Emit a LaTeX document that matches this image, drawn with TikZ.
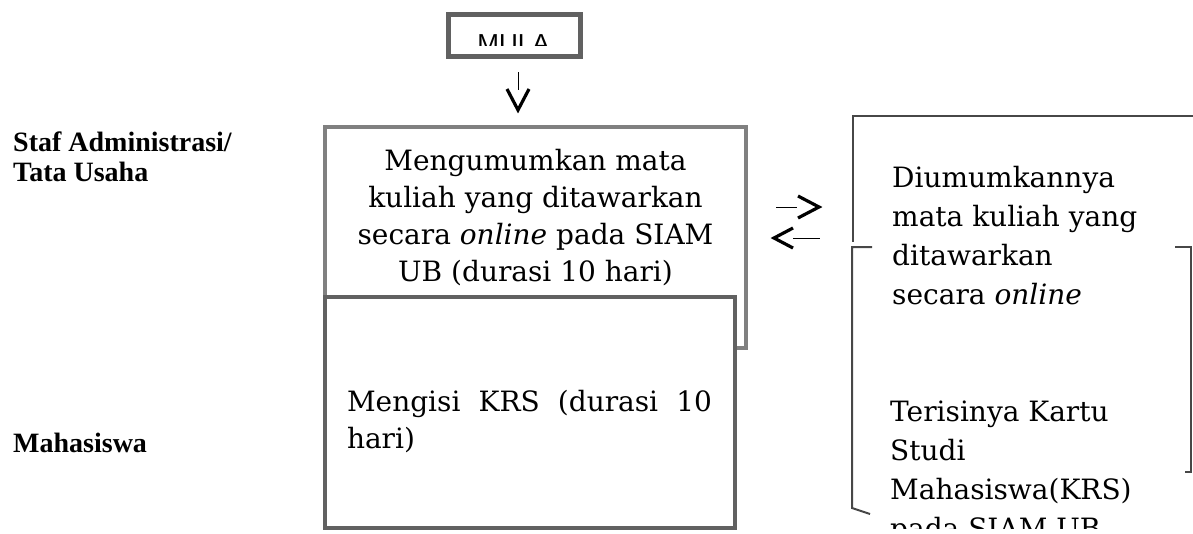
\documentclass[tikz,border=0pt]{standalone}
\usepackage{fontspec}
\setmainfont{DejaVu Serif}
\newfontfamily\lanefont{Liberation Serif}
\newfontfamily\mulafont{Liberation Sans}
\usetikzlibrary{positioning}

\begin{document}
\begin{tikzpicture}[x = 1pt, y = -1pt,
    box/.style = { draw, fill = white, line width = 4pt, inner sep = 0pt },
    lane/.style = { font = \lanefont\bfseries\fontsize{28}{30}\selectfont, align = left, anchor = west, inner sep = 0pt },
    body/.style = { font = \fontsize{28}{37}\selectfont, inner sep = 0pt },
    edge/.style = { draw = black!72, line width = 2pt },
    tip/.style = { line width = 3.2pt, line join = miter },
    stem/.style = { line width = .8pt }
  ]
  \useasboundingbox (0,0) rectangle (1193,533);

  % lanes
  \node [lane] (staf) at (13,157) { Staf Administrasi/ \\ Tata Usaha };
  \node [lane] (mhs) at (13,443) { Mahasiswa };

  % start
  \node [box, draw = black!62, line width = 5pt, minimum width = 132, minimum height = 42] (mula) at (514.5,35.5) {};
  \begin{scope}
    \clip (450,20) rectangle (580,45);
    \node [font = \mulafont\fontsize{26}{28}\selectfont, anchor = base, inner sep = 0pt] (mulatxt) at (513.5,52) { MULA };
  \end{scope}

  \coordinate (turun) at (518,110);
  \draw [stem] (turun) ++(0,-38) -- ++(0,18);
  \draw [tip] (turun) ++(-11,-21) -- (turun) -- ++(11,-21);

  % staf
  \node [box, draw = black!50, minimum width = 421, minimum height = 221] (umum) at (535.5,237.5) {};
  \node [body, align = center] (umumtxt) at (535.5,217.5)
    { Mengumumkan mata \\ kuliah yang ditawarkan \\ secara \textit{online} pada SIAM \\ UB (durasi 10 hari) };

  % mahasiswa
  \node [box, draw = black!62, minimum width = 410, minimum height = 231] (isi) at (530,412.5) {};
  \node [body, text width = 365, align = justify] (isitxt) at (529.5,422) { Mengisi KRS (durasi 10 hari) };

  % two-way arrows
  \coordinate (kirim) at (819,207);
  \coordinate (balas) at (774,238);
  \draw [stem] (kirim) ++(-43,0) -- ++(21,0);
  \draw [tip] (kirim) ++(-21,-11) -- (kirim) -- ++(-21,11);
  \draw [tip] (balas) ++(19,-10) -- (balas) -- ++(19,10);
  \draw [stem] (balas) ++(19,0) -- ++(27,0);

  % outputs
  \draw [edge] (1195,116) -- (853,116) -- (853,242);
  \draw [edge] (872,247) -- (852,247) -- (852,508) -- (870,514);
  \draw [edge] (1175,247) -- (1191,247) -- (1191,472) -- (1185,472);

  \node [body, font = \fontsize{28}{39}\selectfont, align = left, anchor = north west] (umumkan) at (892,166)
    { Diumumkannya \\ mata kuliah yang \\ ditawarkan \\ secara \textit{online} };
  \begin{scope}
    \clip (880,380) rectangle (1193,528);
    \node [body, font = \fontsize{28}{39}\selectfont, align = left, anchor = north west] (krs) at (890,401)
      { Terisinya Kartu \\ Studi \\ Mahasiswa(KRS) \\ pada SIAM UB };
  \end{scope}
\end{tikzpicture}
\end{document}
